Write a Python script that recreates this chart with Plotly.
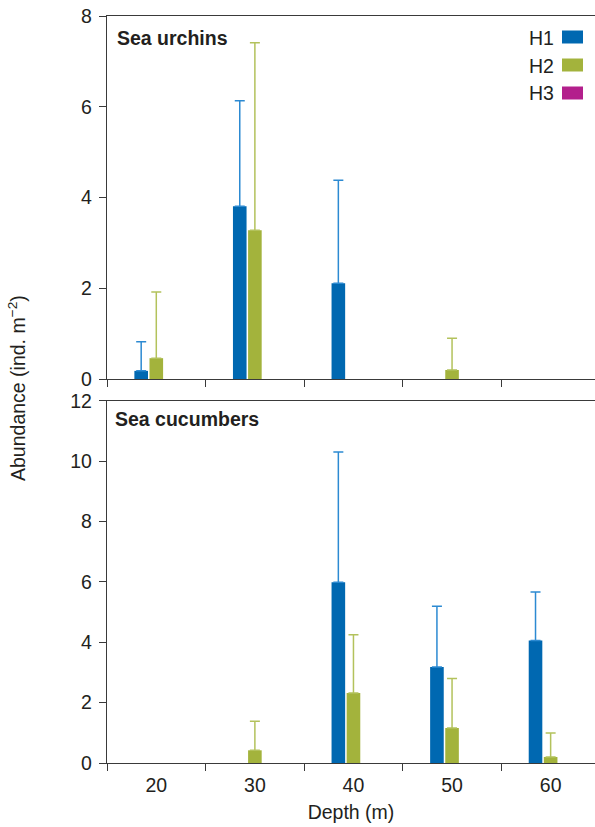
import plotly.graph_objects as go
from plotly.subplots import make_subplots

depths = ["20", "30", "40", "50", "60"]
series = ["H1", "H2", "H3"]

urchin_h1 = [0.18, 3.81, 2.11, None, None]
urchin_h1_sd = [0.64, 2.32, 2.27, None, None]
urchin_h2 = [0.46, 3.28, None, 0.20, None]
urchin_h2_sd = [1.46, 4.13, None, 0.70, None]
urchin_h3 = [0, 0, 0, 0, 0]

cucumber_h1 = [None, None, 5.99, 3.18, 4.06]
cucumber_h1_sd = [None, None, 4.31, 2.01, 1.60]
cucumber_h2 = [None, 0.42, 2.32, 1.16, 0.20]
cucumber_h2_sd = [None, 0.96, 1.93, 1.64, 0.79]
cucumber_h3 = [0, 0, 0, 0, 0]

urchin_ticks = [0, 2, 4, 6, 8]
cucumber_ticks = [0, 2, 4, 6, 8, 10, 12]

bar_colors = {"H1": "#0068B1", "H2": "#A3B33C", "H3": "#B31F8C"}
err_colors = {"H1": "#2C8AD2", "H2": "#B3C25C", "H3": "#B31F8C"}

FONT = "Liberation Sans, Arial, Helvetica, sans-serif"
TXT = "#231F20"
FS = 19.5

fig = make_subplots(rows=2, cols=1, shared_xaxes=False, vertical_spacing=0.0)

panels = [
    (1, [(urchin_h1, urchin_h1_sd), (urchin_h2, urchin_h2_sd), (urchin_h3, None)]),
    (2, [(cucumber_h1, cucumber_h1_sd), (cucumber_h2, cucumber_h2_sd), (cucumber_h3, None)]),
]
for row, data in panels:
    for name, (vals, sd) in zip(series, data):
        kw = {}
        if sd is not None:
            kw["error_y"] = dict(type="data", array=sd, symmetric=False,
                                 arrayminus=[0] * len(sd), visible=True,
                                 color=err_colors[name], thickness=1.5, width=5)
        fig.add_trace(go.Bar(x=depths, y=vals, name=name, marker_color=bar_colors[name],
                             marker_line_width=0, showlegend=False, hoverinfo="skip", **kw),
                      row=row, col=1)

fig.update_layout(
    width=595, height=827,
    margin=dict(l=107, r=0, t=16, b=64, autoexpand=False),
    paper_bgcolor="white", plot_bgcolor="white",
    barmode="group", bargap=0.54, bargroupgap=0.1,
    font=dict(family=FONT, size=FS, color=TXT),
    showlegend=False,
)

axis_common = dict(showline=True, linecolor="#3a3a3a", linewidth=1.3, ticks="outside",
                   ticklen=7, tickwidth=1.3, tickcolor="#3a3a3a", showgrid=False,
                   zeroline=False, automargin=False,
                   tickfont=dict(family=FONT, size=FS, color=TXT))

fig.update_xaxes(**axis_common, type="category", tickson="boundaries",
                 range=[-0.5, 4.45], mirror=True, ticklabelstandoff=4)
fig.update_xaxes(showticklabels=False, row=1, col=1)
fig.update_xaxes(showticklabels=True, row=2, col=1,
                 title=dict(text="Depth (m)", font=dict(family=FONT, size=FS, color=TXT), standoff=10))

fig.update_yaxes(**axis_common, ticklabelstandoff=3)
fig.update_yaxes(range=[0, 8], tickvals=urchin_ticks, domain=[0.514, 1.0], row=1, col=1)
fig.update_yaxes(range=[0, 12], tickvals=cucumber_ticks, domain=[0.0, 0.485], row=2, col=1)

W, H = 488, 747

annotations = [
    dict(text="<b>Sea urchins</b>", x=(115 - 107) / W, y=(763 - 38) / H, xref="paper", yref="paper",
         xanchor="left", yanchor="middle", showarrow=False,
         font=dict(family=FONT, size=FS, color=TXT)),
    dict(text="<b>Sea cucumbers</b>", x=(113 - 107) / W, y=(763 - 418.5) / H, xref="paper", yref="paper",
         xanchor="left", yanchor="middle", showarrow=False,
         font=dict(family=FONT, size=FS, color=TXT)),
    dict(text="Abundance (ind. m<sup>−2</sup>)", x=(17 - 107) / W, y=0.502, xref="paper", yref="paper",
         xanchor="center", yanchor="middle", textangle=-90, showarrow=False,
         font=dict(family=FONT, size=FS, color=TXT)),
]

# Legend (text left, swatch right) in paper coordinates
legend_rows_px = [37, 65, 93]
shapes = []
for name, ypx in zip(series, legend_rows_px):
    yc = (763 - ypx) / H
    annotations.append(dict(text=name, x=(556 - 107) / W, y=(763 - ypx - 0.5) / H, xref="paper", yref="paper",
                            xanchor="right", yanchor="middle", showarrow=False,
                            font=dict(family=FONT, size=FS, color=TXT)))
    shapes.append(dict(type="rect", xref="paper", yref="paper",
                       x0=(562 - 107) / W, x1=(583 - 107) / W,
                       y0=yc - 6.5 / H, y1=yc + 6.5 / H,
                       fillcolor=bar_colors[name], line=dict(width=0)))

fig.update_layout(annotations=annotations, shapes=shapes)

fig.write_html(
    "out.html",
    config={"displayModeBar": False},
    post_script="document.body.style.margin='0';document.body.style.overflow='hidden';",
)
